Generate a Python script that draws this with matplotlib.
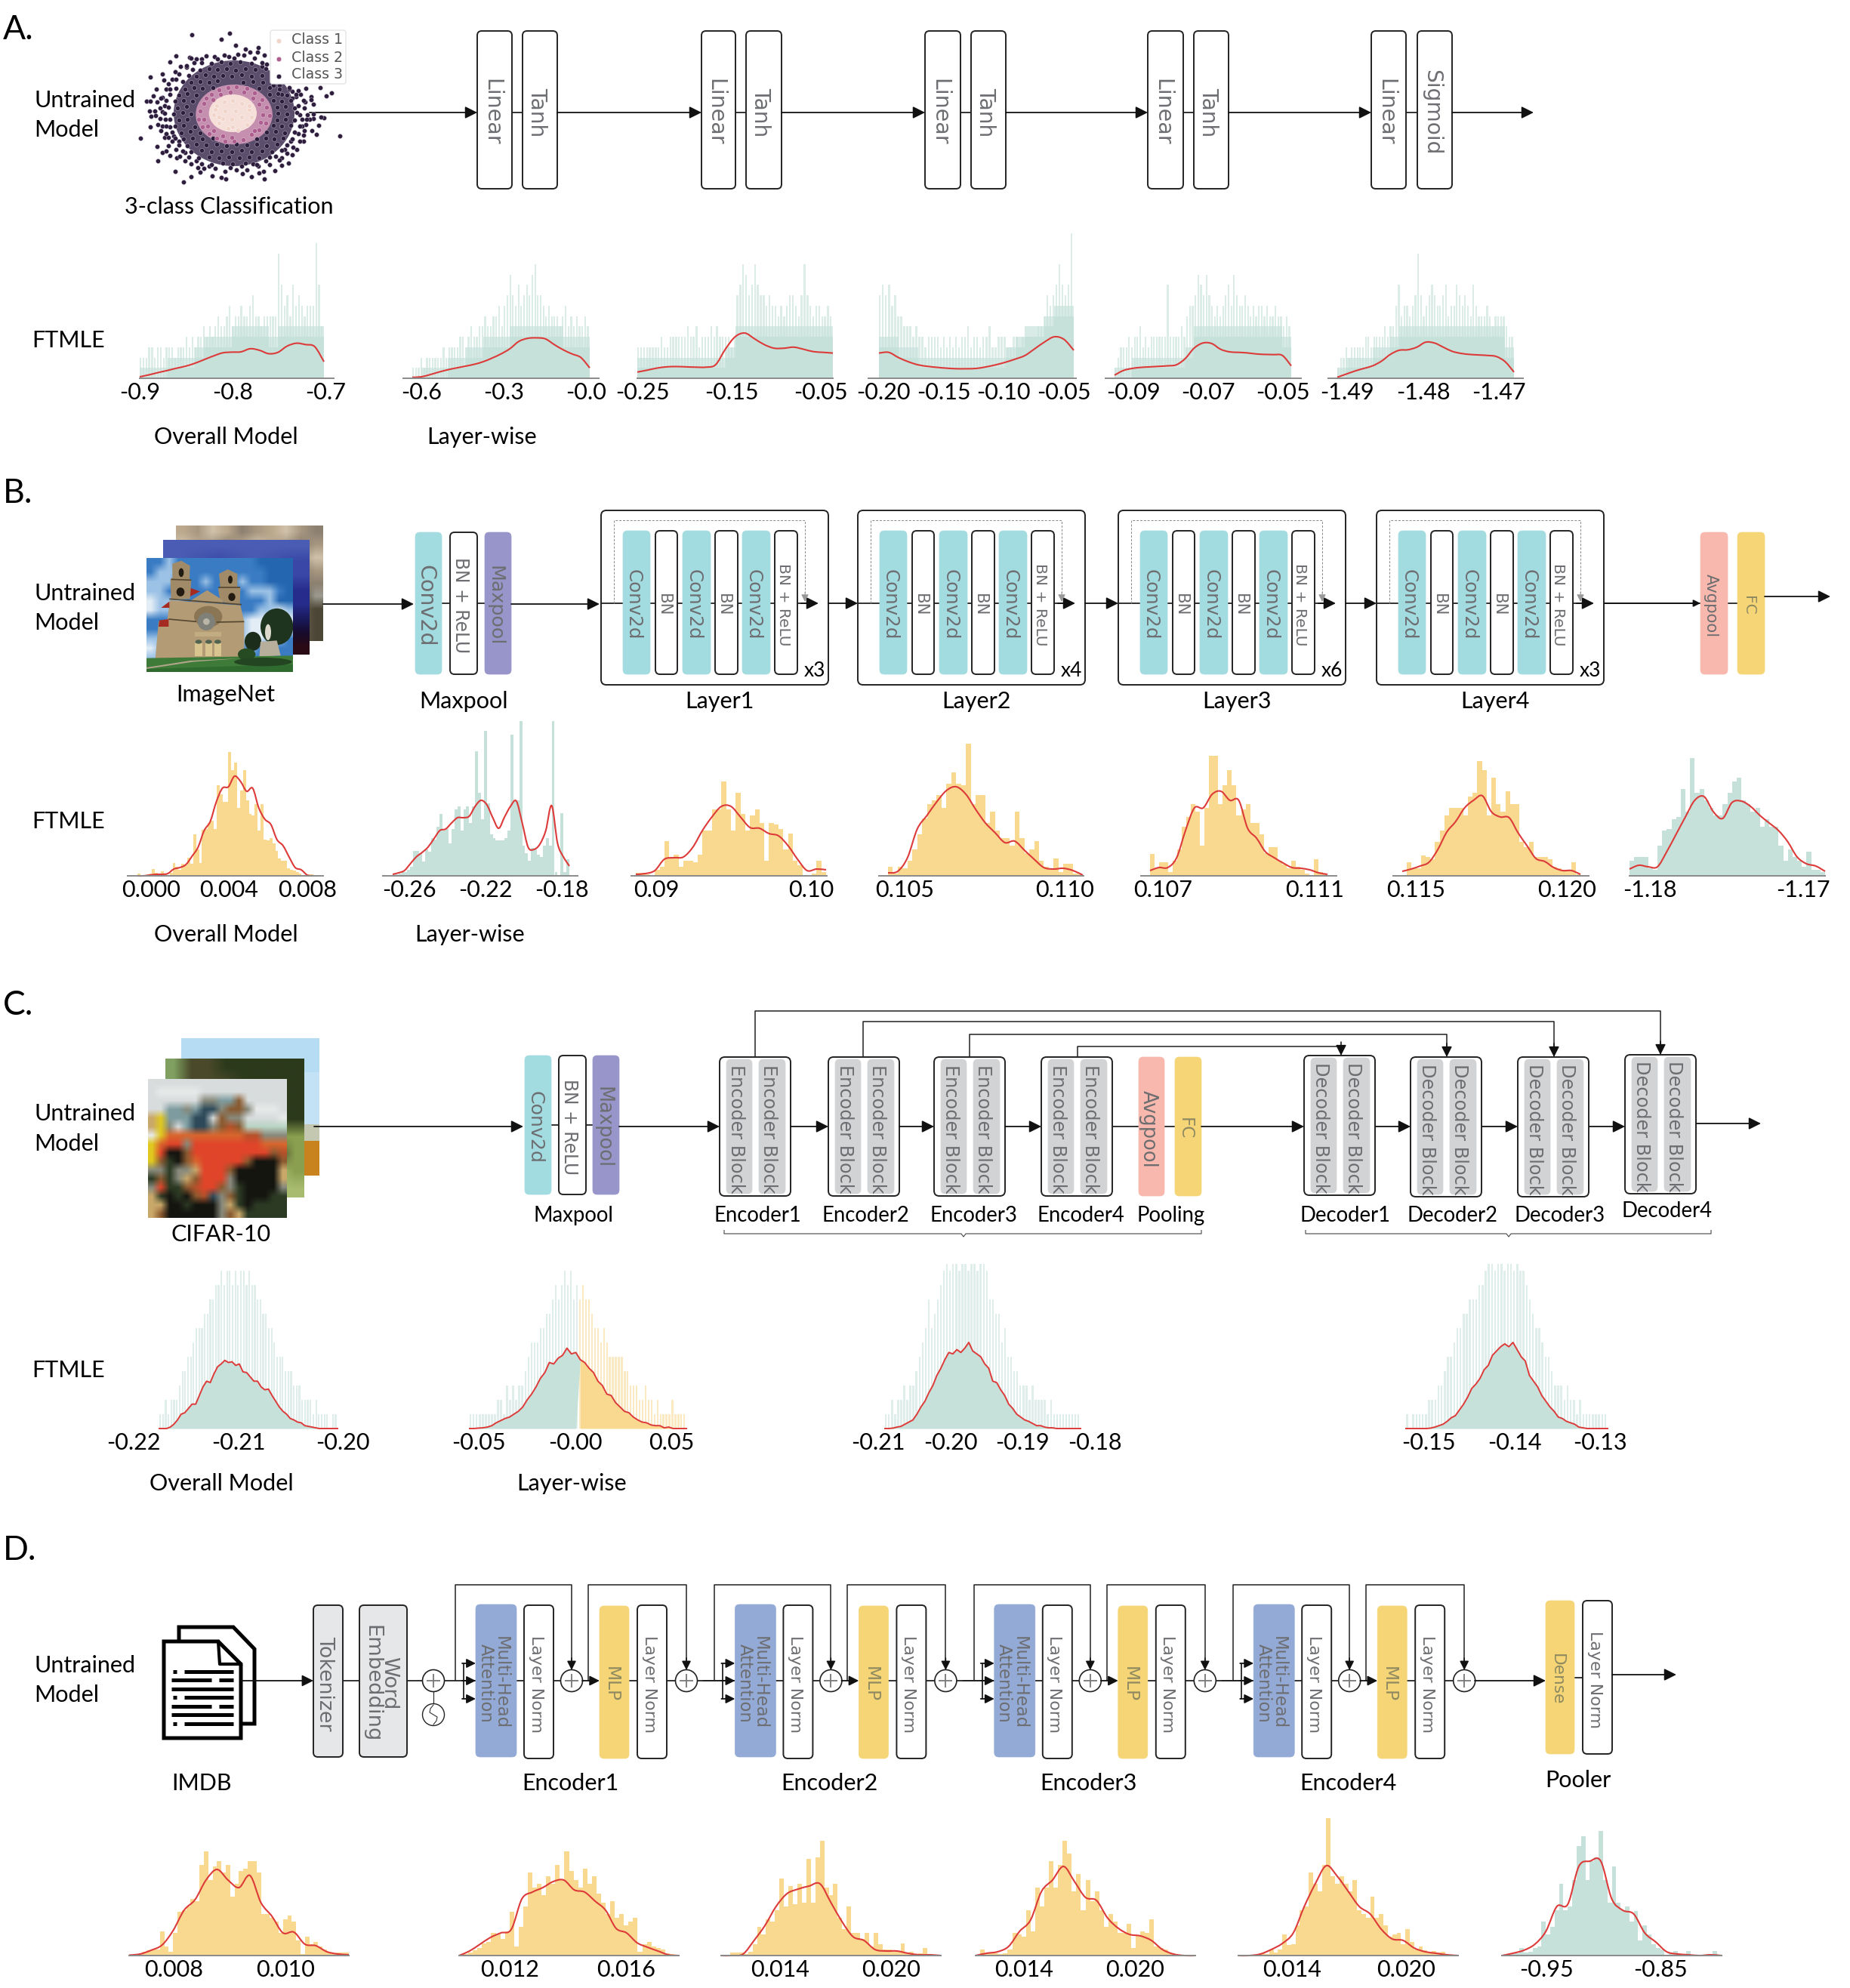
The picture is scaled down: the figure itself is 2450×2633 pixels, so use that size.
import numpy as np
import matplotlib
matplotlib.use('Agg')
import matplotlib.pyplot as plt
from matplotlib.colors import to_rgb
from matplotlib.patches import FancyBboxPatch, Polygon, Ellipse, Circle, PathPatch, Rectangle
from matplotlib.path import Path

plt.rcParams['font.family'] = ['Lato', 'DejaVu Sans']

W, H = 2450, 2633

GREEN = '#C5E1D9'
ORANGE = '#F9D88F'
RED = '#DD3A3A'
TEAL = '#A3DCE0'
PURPLE = '#9795C9'
SALMON = '#F9B8AE'
YELLOW = '#F5D576'
BLUE = '#94AAD6'
GREY = '#D1D3D4'
LIGHT = '#E6E7E8'
TXT = '#6D6E71'

# ---- scatter of panel A
class3_pts = [(252,47),(402,43),(369,65),(426,89),(465,105),(515,100),(484,117),(512,117),(190,132),(165,155),
    (243,137),(250,140),(540,130),(290,143),(310,132),(343,136),(380,128),(400,135),(435,126),(460,130),(208,175),
    (232,178),(88,215),(135,205),(185,195),(142,228),(160,243),(110,265),(100,292),(72,313),(88,313),(135,297),
    (115,315),(84,352),(105,350),(90,372),(108,370),(118,405),(88,415),(128,430),(47,459),(145,455),(158,455),
    (115,493),(160,488),(135,517),(150,510),(165,527),(116,550),(193,537),(225,548),(187,590),(248,613),(218,633),
    (285,595),(333,610),(368,615),(388,620),(452,600),(490,612),(520,597),(540,622),(538,592),(582,589),(610,567),
    (635,558),(608,537),(650,525),(670,505),(695,470),(695,448),(730,430),(748,445),(755,408),(735,380),(778,378),
    (765,375),(840,449),(807,279),(785,290),(762,258),(725,295),(725,307),(703,315),(735,325),(705,262),(685,285),
    (675,270),(650,272),(720,385),(708,385),(735,362),
    (200,205),(175,225),(150,265),(130,300),(125,340),(125,380),(135,410),(150,440),(175,470),(190,505),(205,530),
    (250,560),(275,575),(300,580),(345,580),(385,590),(430,585),(470,585),(515,570),(560,565),(600,545),(630,520),
    (655,495),(680,470),(700,430),(705,405),(710,365),(700,340),(695,310),(665,295),(640,265),(600,250),(575,240),
    (230,170),(270,145),(355,145),(420,140),(500,140),(530,175),(548,165),
    (190,225),(165,265),(145,330),(135,355),(148,385),(165,415),(180,450),(200,470),(225,515),(270,550),(320,570),
    (405,575),(450,570),(495,560),(545,550),(585,530),(620,505),(645,470),(675,440),(690,410),(680,365),(675,330),
    (650,300),(610,285),
    (260,160),(290,158),(330,163),(370,157),(405,162),(445,156),(490,163),(530,158),
    (255,185),(285,188),(320,183),(355,187),(390,182),(425,188),(465,184),(505,186),(545,183),
    (240,210),(270,212),(305,208),(340,213),(375,209),(410,212),(450,207),(490,213),(530,209),
    (215,235),(250,238),(285,233),(320,237),(355,232),(455,236),(495,233),(535,238),(575,250),
    (190,260),(225,263),(260,258),(295,262),(335,258),(520,262),(560,258),(600,263),(640,259),
    (165,285),(200,288),(235,283),(270,287),(560,286),(595,283),(630,288),(665,284),
    (150,310),(185,312),(220,308),(255,313),(575,309),(610,312),(645,308),
    (160,335),(195,338),(230,333),(590,337),(625,333),(660,338),
    (145,360),(180,363),(215,358),(250,362),(595,360),(630,363),(670,358),
    (165,385),(200,388),(235,383),(590,386),(625,383),(660,388),(690,384),
    (150,410),(185,412),(220,408),(265,413),(575,409),(610,412),(645,408),(680,411),
    (175,435),(210,438),(245,433),(285,437),(550,435),(585,433),(620,438),(660,434),
    (185,460),(220,463),(255,458),(295,462),(335,458),(510,462),(545,458),(580,463),(615,459),(650,462),
    (200,485),(235,488),(270,483),(310,487),(350,484),(390,488),(430,484),(470,487),(510,483),(550,488),(590,484),(630,487),
    (215,510),(250,512),(290,508),(330,513),(370,509),(410,512),(450,508),(490,513),(530,509),(570,512),(610,508),
    (240,535),(280,538),(320,533),(360,537),(400,534),(440,538),(480,533),(520,537),(560,534),
    (290,560),(330,563),(375,558),(415,562),(465,559),(510,563)]
class2_pts = [(300,320),(285,350),(280,385),(295,415),(320,440),(350,460),(385,470),(420,472),(455,465),(490,445),
    (520,425),(545,400),(560,370),(550,335),(530,305),(500,280),(470,262),(430,255),(395,258),(360,268),(330,285),
    (310,300),(300,385),(315,410),(340,430),(375,450),(410,455),(500,430),(525,395),(535,365),(520,325),(495,300),
    (460,275),(405,275),(365,285),(335,305)]
class1_pts = [(350,330),(380,315),(415,310),(450,320),(480,345),(490,375),(470,405),(435,425),(395,420),(360,400),
    (340,365),(385,350),(425,350),(450,375),(410,385),(375,380),(345,345),(480,330),(415,415),(360,375)]
legend_labels = ['Class 1', 'Class 2', 'Class 3']

# ---- panel A histograms (counts)
a1_spikes = [2,2,2,3,3,2,3,3,2,3,3,3,2,3,3,3,4,3,4,3,4,4,5,4,5,4,5,6,5,5,6,7,5,6,6,7,6,6,7,8,6,6,5,6,6,6,6,6,12,9,7,8,6,9,7,8,7,6,7,7,7,13,9,5]
a1_floor = [1,1,1,2,2,2,3,4,4,4,5,5,5,5,4,5,5,5,5,5]
a1_curve = [.14,.33,.55,.75,.97,1.17,1.45,1.8,2.15,2.45,2.52,2.55,2.85,2.7,2.37,2.5,3.1,3.38,3.25,3.05,1.6]
a2_spikes = [1,1,1,2,1,2,2,2,2,2,2,3,2,3,3,3,3,4,4,3,4,5,4,4,5,5,6,5,5,6,6,7,5,7,8,10,8,7,9,7,8,9,8,10,11,8,8,7,6,7,6,6,6,5,6,7,5,6,5,6,5,5,6,5]
a2_floor = [0,1,1,1,2,2,3,3,4,4,4,5,5,5,5,5,5,4,4,4]
a2_curve = [.09,.14,.35,.6,.82,1.0,1.17,1.35,1.6,1.95,2.35,2.85,3.55,3.85,3.9,3.8,3.25,2.75,2.35,2.0,1.0]
a3_spikes = [3,3,3,3,3,3,3,3,4,3,3,4,4,4,4,4,4,5,4,4,5,3,4,4,4,5,4,5,4,4,4,4,3,4,8,9,11,10,8,9,11,9,8,8,7,8,7,7,6,7,6,7,8,8,7,6,8,11,8,7,6,7,7,6,6,7,6]
a3_floor = [2,2,2,2,2,2,2,2,2,3,5,5,5,5,5,5,5,5,5,5]
a3_curve = [.6,.78,.98,1.1,1.13,1.1,1.07,1.07,1.3,2.8,4.0,4.36,3.8,3.24,2.9,2.9,3.0,2.8,2.57,2.5,2.43]
a4_spikes = [8,9,8,9,7,8,6,6,5,5,5,4,5,4,4,3,4,4,4,4,3,4,3,4,3,4,3,4,4,5,3,4,4,3,4,4,5,3,3,4,4,4,3,3,4,4,3,4,3,4,4,4,5,5,6,8,7,8,9,11,9,8,9,14]
a4_floor = [4,4,3,3,2,2,2,2,2,2,2,2,2,3,4,5,5,6,7,7]
a4_curve = [2.43,2.5,2.0,1.6,1.3,1.15,1.05,.97,.92,.92,.95,1.1,1.3,1.55,1.85,2.2,2.85,3.5,4.0,3.75,2.7]
a5_spikes = [1,2,3,3,3,4,3,4,4,5,3,4,3,4,4,4,4,4,4,9,4,4,4,4,5,4,6,7,7,8,10,9,8,10,8,7,6,7,6,7,8,9,7,10,8,7,7,8,7,6,7,6,7,7,6,7,6,6,7,6,6,5,6,5]
a5_floor = [1,1,2,2,2,2,2,2,3,5,5,5,5,5,5,5,5,5,5,4]
a5_curve = [.3,.75,.95,1.05,1.1,1.15,1.2,1.3,1.9,2.9,3.4,3.35,2.8,2.55,2.5,2.45,2.35,2.3,2.28,2.2,1.2]
a6_spikes = [1,2,2,3,2,3,3,3,3,3,4,4,3,4,4,4,4,5,4,5,5,7,9,6,7,7,6,7,8,12,8,6,7,8,9,8,7,7,8,9,6,7,7,9,8,7,8,7,6,9,7,6,6,6,7,6,5,6,6,6,6,5,4,4]
a6_floor = [1,2,2,2,3,3,4,5,5,5,5,5,5,5,5,5,5,5,5,3]
a6_curve = [.1,.4,.7,.95,1.2,1.65,2.3,2.7,2.75,3.0,3.48,3.4,3.0,2.6,2.4,2.3,2.25,2.2,2.1,1.6,.6]

# ---- panel B histograms (relative heights)
b1_bars = [3,0,0,2,3,9,4,0,6,3,0,4,17,12,8,16,14,24,16,55,35,17,61,62,70,73,62,120,108,98,98,164,140,150,90,113,140,100,82,80,95,60,95,48,47,50,43,33,23,20,20,10,8,7,5,3,1,1,2,2]
b1_curve = [0,0,1,2,2,3,9,11,15,26,38,60,72,98,116,118,132,125,112,116,90,75,68,48,40,25,11,8,1,0]
b2_bars = [3,2,3,5,5,8,12,33,33,30,19,35,32,50,48,65,82,60,62,43,62,88,92,60,88,92,70,92,165,110,75,192,96,55,50,47,47,47,50,60,187,100,100,205,40,30,20,37,35,28,25,40,50,40,205,5,0,83,5,22]
b2_curve = [2,4,7,16,25,31,38,49,60,62,70,77,77,79,92,100,94,77,63,78,92,99,70,38,35,42,60,93,43,25,13]
b3_bars = [4,4,2,0,8,12,46,25,28,12,20,20,18,28,60,60,88,88,125,88,60,110,82,60,80,88,70,20,70,68,62,35,56,20,14,0,0,3,20,5]
b3_curve = [2,3,7,22,24,25,38,60,78,92,92,78,64,63,56,53,40,22,7,9,8]
b4_bars = [12,3,12,10,20,35,55,76,95,100,107,90,122,137,122,120,175,95,107,107,70,85,60,50,50,40,85,50,30,35,46,20,12,8,23,5,16,16,3,2]
b4_curve = [4,6,24,62,80,98,113,118,108,88,70,57,44,46,34,22,11,9,10,7,1]
b5_bars = [29,10,18,18,5,20,35,65,78,95,85,40,90,159,159,95,120,140,120,80,88,95,70,70,55,30,38,38,20,15,10,20,12,8,3,0,22,5,3]
b5_curve = [7,11,11,24,60,90,90,108,112,100,100,63,50,32,24,17,11,10,8,4,2]
b6_bars = [0,18,10,10,27,25,22,45,60,80,90,90,90,80,105,110,152,140,80,130,95,85,112,95,95,45,38,45,25,25,25,22,12,10,8,8,18,2]
b6_curve = [6,9,13,18,35,58,72,90,100,106,85,78,77,57,40,23,19,11,7,7,2]
b7_bars = [20,25,25,25,10,8,40,60,62,75,78,115,85,156,110,115,100,90,80,80,95,110,125,130,100,95,85,90,65,75,65,65,40,20,35,25,20,12,32,8,8,5]
b7_curve = [9,14,12,12,32,55,78,100,105,85,76,97,99,92,80,70,60,45,25,16,13,6]

# ---- panel C histograms (counts); the solid part follows the curve
c1_spikes = [1,1,2,1,2,2,2,3,4,4,5,5,6,7,7,7,8,8,9,9,10,10,11,10,11,11,10,11,10,11,11,10,11,10,10,9,9,8,8,7,7,6,5,5,5,4,4,4,3,3,3,2,2,2,2,1,2,1,1,1,1,0,1,1]
c1_curve = [0,0,0,.1,.3,.6,1,1.1,1.4,1.7,1.7,2.3,2.9,3.3,3.2,3.8,4.3,4.5,4.75,4.6,4.65,4.4,4.5,3.95,3.9,3.6,3.3,3.3,2.9,2.7,2.75,2.3,1.9,1.5,1.2,1.0,.7,.6,.45,.4,.2,.15,.1,.05,0,0,0,0,0,0]
c2_green_spikes = [1,1,1,1,1,1,1,1,1,2,2,1,3,2,3,2,3,3,4,5,6,6,6,7,7,8,8,9,10,9,10,11,10,11,9,10]
c2_orange_spikes = [9,10,9,9,8,7,7,6,7,6,5,5,5,5,5,4,4,3,3,3,2,2,3,2,2,1,2,1,1,1,1,2,1,1,1,1]
c2_curve = [0,0,.03,.05,.1,.2,.4,.55,.7,.8,1,1.2,1.5,2,2.4,2.9,3.5,3.9,4.6,4.5,4.9,5.1,5.6,5.2,5.3,4.8,4.6,4.2,3.9,3.3,3.0,2.4,2.3,1.8,1.5,1.2,1.1,.8,.6,.45,.4,.25,.2,.2,.05,.1,0,0,0,0]
c3_spikes = [1,1,2,1,2,2,3,2,3,3,4,5,6,7,9,7,8,9,10,11,12,11,12,12,11,12,12,11,12,12,11,12,12,11,9,9,8,8,6,7,5,5,4,4,3,3,3,2,3,2,2,2,2,1,2,1,1,1,1,1,1,1,1,1]
c3_curve = [0,0,.03,.1,.15,.3,.45,.6,1,1.5,1.9,2.5,3,3.7,4.2,4.8,5.3,5.2,5.5,5.3,5.6,6,5.4,5.2,5,4.5,4.2,3.3,3.2,2.7,2.3,1.7,1.4,1,.8,.6,.5,.35,.2,.2,.1,.05,.05,0,0,0,0,0,0,0]
c4_spikes = [1,0,1,1,1,1,1,2,2,2,3,3,4,5,5,6,7,7,8,8,9,9,9,10,10,11,12,12,11,12,12,11,12,12,11,12,11,11,10,9,8,7,7,6,5,5,4,3,3,3,2,3,2,2,1,2,1,1,1,1,1,1,1,1]
c4_curve = [0,0,0,0,0,0,.03,.1,.2,.3,.5,.75,.9,1.3,1.7,2.2,2.8,3.1,3.5,4.1,4.4,5.1,5.4,5.7,5.9,5.7,6,5.5,5,4.7,3.7,3.3,2.9,2.3,1.9,1.5,1.2,.8,.7,.5,.4,.3,.1,.05,0,0,0,0,0,0]

# ---- panel D histograms (relative heights)
d1_bars = [1,0,2,5,7,8,8,32,12,5,30,58,60,65,75,72,120,138,100,118,125,110,120,78,95,112,115,125,125,110,55,55,50,45,30,48,53,45,20,2,25,15,18,12,8,5,2,4,4,4]
d1_curve = [.5,2,7,14,33,60,74,100,114,100,90,106,70,52,30,31,15,13,5,2,1]
d2_bars = [0,2,4,7,10,16,18,30,28,22,32,58,12,38,65,110,90,95,80,105,95,120,100,138,112,100,90,115,95,105,82,70,55,72,50,55,40,45,50,5,15,18,12,10,8,3,2,1]
d2_curve = [0,6,15,24,30,35,75,84,90,98,100,87,84,72,60,36,30,17,11,6,1,0]
d3_bars = [0,0,4,4,4,2,5,15,38,28,48,45,60,102,65,92,68,95,70,128,70,130,152,90,80,95,50,35,65,30,30,22,30,12,30,15,8,8,5,5,16,4,5,2,3,10,2,0,0]
d3_curve = [0,0,2,20,40,65,82,88,92,95,70,45,25,20,8,6,6,3,1,1,0]
d4_bars = [0,8,3,4,3,2,3,8,30,28,25,60,32,90,65,90,125,90,120,152,135,85,108,60,100,72,85,60,38,55,45,30,30,42,10,26,32,30,48,12,10,8,3,1,1,0,0,0]
d4_curve = [0,3,5,12,32,47,85,100,118,98,77,73,50,36,28,26,20,8,2,0,0]
d5_bars = [0,0,0,0,0,3,2,8,4,8,28,14,15,40,60,65,110,95,85,120,182,105,95,105,95,85,100,60,55,50,78,50,55,40,25,28,30,15,35,18,8,12,7,5,6,4,5,1,0,0]
d5_curve = [0,0,2,8,16,30,65,95,119,105,85,65,55,35,22,20,10,5,3,1,0]
d6_bars = [0,0,2,3,10,4,5,10,12,45,28,38,60,95,60,65,100,145,158,100,125,130,165,100,70,118,70,60,65,45,59,20,40,28,15,10,8,0,3,6,0,0,6,0,0,0,0,0,6,0]
d6_curve = [0,3,7,15,32,65,68,118,125,125,75,60,55,30,18,5,2,1,0,1,0]

# ---- the photos, as coarse colour grids
sky_palette = {'b':'#3A7CC4','d':'#2467B0','c':'#9CC2E6','w':'#E3EDF6'}
sky_rows = [
    'bbcbbbbbbbbbdddd',
    'bcccbbbbbbbbbddd',
    'cccbbbcbbbcbbddd',
    'ccbbbbbbbbbcccbd',
    'wcccbbbbbbbbbcdd',
    'wccbbbbbbbbbccwc',
    'bbbbbbbbbbcwwwww',
    'bbbbbbbbbbcwwwww',
    'ccbbbbbbbbcwwccb',
    'wcbbbbbbbbbcbbbb',
    'ccbbbbbbbbbbbbbb',
    'bbbbbbbbbbbbbbbb']
sea_palette = {'a':'#4A5CB4','b':'#3A47A6','c':'#262C8C','d':'#1A1A5C','e':'#180C2C','f':'#2A0A14'}
sea_rows = ['aaaa','abab','bbbb','cccc','cccc','dddd','eeee','ffff']
rock_palette = {'a':'#BCA98E','b':'#A89882','c':'#8C8070','d':'#D0C2AA','e':'#6A604E','f':'#9C9A90','g':'#4C4636'}
rock_rows = ['abdacbadbc','dabcadabcb','abadcbacbd','bcabdacbcb','adbcabdfcc','abacbdafgf','cabdabcgeg','abcabaceeg','abdabcbgeg']
truck_palette = {'a':'#D8DCDC','w':'#E8EAEA','h':'#7E9CA0','n':'#2E4A5A','o':'#E0452A','O':'#D8662E','y':'#E0C820',
    'k':'#151510','g':'#2C3A24','t':'#C9A86A','m':'#888A7C','e':'#B9D4C4','b':'#8A5A30','r':'#B5512A'}
truck_rows = [
    'aaaaaaaaaaaaaaaa',
    'awwwwwaaaaaaaaaa',
    'aaaaaammhhbaaaaa',
    'aahhmhnnmbbmwwwa',
    'tyhhhnnabmmaaaaw',
    'tymahnnmbrbeeeee',
    'wyOOOOOOOOOrrmmm',
    'yOoomooooooooOOO',
    'yokkbooooooooobr',
    'ybgkbOooooobkkkb',
    'mmgmmtooobkkkkkt',
    'gbgmtbooomkkkkkt',
    'moggbroobmgkkkkm',
    'tgkgkbrnmbgkkkgg',
    'ttkkgkkkmtgkgggg',
    'tbkkkkkkmbtggggg']
leaf_palette = {'u':'#7FA060','v':'#2C3A1C','x':'#4A4A2A','y':'#8AA050','z':'#A8BC70'}
leaf_rows = ['uxxvvvvv','uxxxvvvv','xxxxxvvv','xxxxxxvv','xxxxxxyy','xxxxxxxy','xxxxxxzy','xxxxxxzz']
field_palette = {'s':'#B5DCF2','q':'#C3E2F5','g':'#C4C8B0','o':'#C8821E','O':'#DB9A28'}
field_rows = ['ssss','ssss','qqqq','qqqq','qqqq','gggg','oOoo','oooo']


def mosaic(rows, palette):
    n = max(len(r) for r in rows)
    return np.array([[to_rgb(palette[c]) for c in r.ljust(n, r[-1])] for r in rows])


fig = plt.figure(figsize=(W / 100, H / 100), dpi=100)
canvas = fig.add_axes([0, 0, 1, 1])


def finish_canvas():
    canvas.set_xlim(0, W)
    canvas.set_ylim(H, 0)
    canvas.axis('off')


def txt(x, y, s, size=22, ha='center', color='black', **kw):
    canvas.text(x, y + 2, s, fontsize=size, ha=ha, va='center', color=color, zorder=8, **kw)


def vtxt(x, y, s, size=17, color=TXT):
    canvas.text(x - 4, y + 3, s, fontsize=size * 1.04, ha='center', va='center', rotation=270, color=color,
                family='DejaVu Sans', zorder=8, linespacing=0.85)


def box(x0, x1, y0, y1, fc='white', ec='#222222', lw=1.4, r=6, z=5):
    canvas.add_patch(FancyBboxPatch((x0, y0), x1 - x0, y1 - y0, boxstyle=f'round,pad=0,rounding_size={r}',
                                    fc=fc, ec=ec, lw=lw, zorder=z))


def block(x0, x1, y0, y1, s, size, fc=None, outlined=True, color=TXT):
    if fc is None:
        box(x0, x1, y0, y1)
    elif outlined:
        box(x0, x1, y0, y1, fc=fc)
    else:
        box(x0, x1, y0, y1, fc=fc, ec=fc, lw=0.5)
    vtxt((x0 + x1) / 2, (y0 + y1) / 2, s, size, color)


def seg(xs, ys, lw=1.3, color='#222222', z=3, **kw):
    canvas.plot(xs, ys, color=color, lw=lw, zorder=z, solid_capstyle='butt', **kw)


def arrow(x0, y0, x1, y1, lw=1.3, ms=16, color='#111111', z=6):
    canvas.annotate('', xy=(x1, y1), xytext=(x0, y0), zorder=z,
                    arrowprops=dict(arrowstyle='-|>,head_length=0.6,head_width=0.3', color=color, lw=lw,
                                    shrinkA=0, shrinkB=0, mutation_scale=ms))


def hist_axes(spine, base, height, ymax, tick_px, ticks, labels, show_spine=True):
    x0, x1 = spine
    ax = fig.add_axes([x0 / W, 1 - base / H, (x1 - x0) / W, height / H])
    ax.patch.set_alpha(0)
    scale = (ticks[-1] - ticks[0]) / (tick_px[1] - tick_px[0])
    to_data = lambda px: ticks[0] + (px - tick_px[0]) * scale
    ax.set_xlim(to_data(x0), to_data(x1))
    ax.set_ylim(0, ymax)
    ax.set_xticks(ticks)
    ax.set_xticklabels(labels)
    ax.set_yticks([])
    ax.tick_params(axis='x', length=0, pad=3.8, labelsize=22)
    for k in ('top', 'left', 'right'):
        ax.spines[k].set_visible(False)
    ax.spines['bottom'].set_color('#8A8A8A')
    ax.spines['bottom'].set_linewidth(1.4)
    ax.spines['bottom'].set_visible(show_spine)
    return ax, to_data


def spiky(ax, to_data, bar_px, spikes, color, alpha=0.6):
    edges = np.linspace(to_data(bar_px[0]), to_data(bar_px[1]), len(spikes) + 1)
    ax.bar(edges[:-1], spikes, width=(edges[1] - edges[0]) * 0.6, align='edge', color=color, alpha=alpha, lw=0)


def floor_bars(ax, to_data, bar_px, floor, color):
    # top level is dense but pale in the original, the levels under it are solid
    edges = np.linspace(to_data(bar_px[0]), to_data(bar_px[1]), len(floor) + 1)
    ax.bar(edges[:-1], floor, width=edges[1] - edges[0], align='edge', color=color, alpha=0.65, lw=0)
    ax.bar(edges[:-1], np.maximum(np.array(floor) - 1, 0), width=edges[1] - edges[0], align='edge', color=color, lw=0)


def bars(ax, to_data, bar_px, heights, color):
    edges = np.linspace(to_data(bar_px[0]), to_data(bar_px[1]), len(heights) + 1)
    ax.bar(edges[:-1], heights, width=edges[1] - edges[0], align='edge', color=color, lw=0)


def curve(ax, to_data, bar_px, values):
    xs = np.linspace(to_data(bar_px[0]), to_data(bar_px[1]), len(values))
    p = np.column_stack([xs, values])
    verts = [p[0]]
    codes = [Path.MOVETO]
    for i in range(len(p) - 1):
        a = p[max(i - 1, 0)]
        d = p[min(i + 2, len(p) - 1)]
        verts += [p[i] + (p[i + 1] - a) / 6, p[i + 1] - (d - p[i]) / 6, p[i + 1]]
        codes += [Path.CURVE4] * 3
    ax.add_patch(PathPatch(Path(verts, codes), fill=False, ec=RED, lw=1.5, clip_on=False))


def rough_curve(ax, to_data, bar_px, values):
    xs = np.linspace(to_data(bar_px[0]), to_data(bar_px[1]), len(values))
    ax.plot(xs, values, color=RED, lw=1.4, clip_on=False)
    return xs


def side_labels(y_untrained, y_model, y_ftmle=None, y_row=None, x_overall=299, x_layer=627):
    txt(45, y_untrained, 'Untrained', ha='left')
    txt(45, y_model, 'Model', ha='left')
    if y_ftmle is not None:
        txt(42, y_ftmle, 'FTMLE', ha='left')
        txt(x_overall, y_row, 'Overall Model')
        txt(x_layer, y_row, 'Layer-wise')


# ==================== panel A ====================
txt(4, 37, 'A.', 32, ha='left')
side_labels(131, 170, 449, 577, 299, 638)
txt(303, 272, '3-class Classification')

sc = fig.add_axes([170 / W, 1 - 260 / H, 300 / W, 230 / H])
sc.set_xlim(0, 900)
sc.set_ylim(690, 0)
sc.axis('off')
sc.add_patch(Ellipse((420, 360), 480, 420, fc='#5B4D6C', lw=0))
sc.add_patch(Ellipse((420, 365), 305, 238, fc='#C58FAF', lw=0))
sc.add_patch(Ellipse((415, 360), 190, 150, fc='#F5DFD8', lw=0))
sc.scatter(*zip(*class3_pts), s=19, c='#2D1E3E', edgecolors='#CDC3D2', linewidths=0.3)
sc.scatter(*zip(*class2_pts), s=19, c='#AD5F8F', edgecolors='#EAD3E0', linewidths=0.3)
sc.scatter(*zip(*class1_pts), s=19, c='#F1D5CB', edgecolors='white', linewidths=0.3)
leg = fig.add_axes([357 / W, 1 - 112 / H, 102 / W, 73 / H])
leg.set_xlim(357, 459)
leg.set_ylim(112, 39)
leg.add_patch(FancyBboxPatch((358, 40), 100, 71, boxstyle='round,pad=0,rounding_size=3', fc='white', ec='#E4E4E4', lw=1))
for yy, lab, col in zip([53, 77, 100], legend_labels, ['#F1D5CB', '#AD5F8F', '#2D1E3E']):
    leg.scatter([369], [yy + 1], s=22, c=col, edgecolors='white', linewidths=0.3)
    leg.text(386, yy - 1, lab, fontsize=13.7, family='DejaVu Sans', color='#555555', va='center', ha='left')
leg.axis('off')

a_x = [(632, 678, 692, 738, 'Tanh'), (929, 974, 988, 1035, 'Tanh'), (1225, 1272, 1286, 1332, 'Tanh'),
       (1520, 1567, 1581, 1627, 'Tanh'), (1816, 1862, 1877, 1923, 'Sigmoid')]
prev = 410
for x0, x1, x2, x3, name in a_x:
    arrow(prev, 149, x0, 149)
    seg([x1, x2], [149, 149])
    block(x0, x1, 41, 250, 'Linear', 19.7)
    block(x2, x3, 41, 250, name, 19.5)
    prev = x3
arrow(prev, 149, 2031, 149)

a_panels = [
    ((185, 442), (185, 429), (185, 431), [-0.9, -0.8, -0.7], ['-0.9', '-0.8', '-0.7'], a1_spikes, a1_floor, a1_curve),
    ((534, 793), (546, 781), (558, 776), [-0.6, -0.3, -0.0], ['-0.6', '-0.3', '-0.0'], a2_spikes, a2_floor, a2_curve),
    ((844, 1103), (844, 1103), (851, 1087), [-0.25, -0.15, -0.05], ['-0.25', '-0.15', '-0.05'], a3_spikes, a3_floor, a3_curve),
    ((1150, 1425), (1164, 1422), (1170, 1409), [-0.20, -0.15, -0.10, -0.05], ['-0.20', '-0.15', '-0.10', '-0.05'], a4_spikes, a4_floor, a4_curve),
    ((1464, 1723), (1476, 1710), (1501, 1699), [-0.09, -0.07, -0.05], ['-0.09', '-0.07', '-0.05'], a5_spikes, a5_floor, a5_curve),
    ((1759, 2017), (1771, 2005), (1784, 1985), [-1.49, -1.48, -1.47], ['-1.49', '-1.48', '-1.47'], a6_spikes, a6_floor, a6_curve),
]
for spine, bar_px, tick_px, ticks, labels, spikes, floor, line in a_panels:
    ax, to_data = hist_axes(spine, 501, 195, 14.2, tick_px, ticks, labels)
    spiky(ax, to_data, bar_px, spikes, GREEN)
    floor_bars(ax, to_data, bar_px, floor, GREEN)
    curve(ax, to_data, bar_px, line)

# ==================== panel B ====================
txt(4, 652, 'B.', 32, ha='left')
side_labels(784, 823, 1086, 1236, 299, 622)
canvas.imshow(mosaic(rock_rows, rock_palette), extent=(233, 428, 849, 696), aspect='auto', interpolation='bilinear', zorder=2)
canvas.imshow(mosaic(sea_rows, sea_palette), extent=(216, 410, 867, 715), aspect='auto', interpolation='bilinear', zorder=2.1)
canvas.imshow(mosaic(sky_rows, sky_palette), extent=(194, 388, 890, 739), aspect='auto', interpolation='bilinear', zorder=2.2)

# church drawn over the sky, outlines
cx = lambda x: 185 + x / 3
cy = lambda y: 680 + y / 3
photo_clip = Rectangle((194, 739), 194, 151, transform=canvas.transData)


def photo(patch):
    patch.set_zorder(2.3)
    canvas.add_patch(patch)
    patch.set_clip_path(photo_clip)


def poly(pts, col):
    photo(Polygon([(cx(a), cy(b)) for a, b in pts], closed=True, fc=col, ec='none'))


def oval(a, b, w, h, col):
    photo(Ellipse((cx(a), cy(b)), w / 3, h / 3, fc=col, ec='none'))


poly([(62,578),(75,430),(110,420),(120,345),(400,365),(415,430),(415,550),(400,572)], '#B39B76')
poly([(85,375),(118,350),(118,375)], '#A52A22')
poly([(78,425),(115,420),(115,450),(75,450)], '#A52A22')
poly([(198,295),(240,310),(200,330)], '#A52A22')
poly([(130,200),(165,188),(200,208),(198,260),(205,265),(200,340),(125,340),(122,262),(130,255)], '#A08A68')
poly([(315,240),(350,222),(388,240),(388,290),(400,295),(398,365),(320,350),(312,300),(320,290)], '#A08A68')
poly([(205,345),(268,305),(330,345),(330,358),(205,350)], '#AD9672')
for a, b, w, h in [(165,235,20,35),(162,312,32,35),(360,263,18,32),(366,332,28,32)]:
    oval(a, b, w, h, '#211B12')
oval(272, 410, 112, 84, '#8A7555')
oval(265, 430, 70, 70, '#7F8178')
oval(265, 430, 26, 26, '#B9B6A8')
for xs_, ys_ in [((118,405),(340,362)), ((115,225),(420,430)), ((305,415),(432,430)), ((125,205),(262,265)), ((312,400),(295,295))]:
    seg([cx(xs_[0]), cx(xs_[1])], [cy(ys_[0]), cy(ys_[1])], lw=1.2, color='#54462F', z=2.4)
for a in (220, 260, 296):
    poly([(a,515),(a+28,515),(a+28,566),(a,566)], '#D8C48F')
    oval(a + 14, 510, 26, 16, '#4F6350')
poly([(220,470),(325,470),(325,490),(220,490)], '#C2AC82')
oval(545, 450, 130, 145, '#1F341E')
oval(450, 508, 66, 75, '#1C2E1B')
poly([(480,510),(545,505),(560,565),(475,570)], '#B8AE9C')
oval(510, 472, 24, 64, '#DDD8CC')
poly([(27,575),(609,565),(609,632),(27,632)], '#3E7B38')
poly([(27,612),(200,585),(400,576),(210,590),(27,618)], '#B0A58A')
poly([(27,618),(609,600),(609,632),(27,632)], '#2F6A2F')
oval(425, 560, 70, 48, '#264A22')
oval(490, 590, 230, 34, '#244522')

txt(299, 918, 'ImageNet')
txt(614, 927, 'Maxpool')

arrow(428, 800, 548, 800)
seg([585, 642], [799, 799])
block(550, 585, 705, 893, 'Conv2d', 19.7, TEAL, False)
block(596, 632, 705, 893, 'BN + ReLU', 16.3)
block(642, 677, 705, 893, 'Maxpool', 17.6, PURPLE, False)
arrow(677, 800, 794, 800)

layer_x = [796, 1136, 1481, 1823]
layer_rep = ['x3', 'x4', 'x6', 'x3']
for i, (lx, rep) in enumerate(zip(layer_x, layer_rep)):
    box(lx, lx + 301, 676, 907, r=7, z=2)
    seg([lx, lx + 280], [799, 799], z=3)
    seg([lx + 17, lx + 17, lx + 270, lx + 270], [799, 689, 689, 786], lw=0.7, color='#888888', z=3, ls=(0, (3, 2)))
    arrow(lx + 270, 784, lx + 270, 797, lw=0.6, ms=10, color='#999999', z=7)
    arrow(lx + 265, 799, lx + 288, 799)
    for dx0, dx1, s, fs, fc in [(29, 65, 'Conv2d', 17, TEAL), (72, 101, 'BN', 14.6, None), (108, 145, 'Conv2d', 17, TEAL),
                                (151, 181, 'BN', 14.6, None), (187, 224, 'Conv2d', 17, TEAL), (230, 260, 'BN + ReLU', 14, None)]:
        block(lx + dx0, lx + dx1, 703, 893, s, fs, fc, False)
    txt(lx + 283, 887, rep, 19)
    txt(lx + 157, 927, f'Layer{i + 1}')
    if i < 3:
        arrow(lx + 301, 799, layer_x[i + 1], 799)
seg([2125, 2252], [799, 799])
arrow(2125, 799, 2252, 799, ms=9)
block(2252, 2288, 705, 893, 'Avgpool', 14.6, SALMON, False)
block(2301, 2337, 705, 893, 'FC', 14, YELLOW, False, color='#8F8A60')
seg([2288, 2301], [799, 799])
arrow(2337, 790, 2424, 790)

b_panels = [
    ((169, 428), (182, 415), (200, 407), [0.000, 0.004, 0.008], ['0.000', '0.004', '0.008'], b1_bars, b1_curve, ORANGE),
    ((507, 765), (520, 754), (542, 744), [-0.26, -0.22, -0.18], ['-0.26', '-0.22', '-0.18'], b2_bars, b2_curve, GREEN),
    ((836, 1095), (842, 1094), (869, 1074), [0.09, 0.10], ['0.09', '0.10'], b3_bars, b3_curve, ORANGE),
    ((1164, 1435), (1176, 1434), (1198, 1410), [0.105, 0.110], ['0.105', '0.110'], b4_bars, b4_curve, ORANGE),
    ((1511, 1770), (1523, 1758), (1540, 1741), [0.107, 0.111], ['0.107', '0.111'], b5_bars, b5_curve, ORANGE),
    ((1845, 2104), (1857, 2093), (1875, 2075), [0.115, 0.120], ['0.115', '0.120'], b6_bars, b6_curve, ORANGE),
    ((2158, 2417), (2158, 2417), (2185, 2388), [-1.18, -1.17], ['-1.18', '-1.17'], b7_bars, b7_curve, GREEN),
]
for spine, bar_px, tick_px, ticks, labels, heights, line, col in b_panels:
    ax, to_data = hist_axes(spine, 1160, 206, 206, tick_px, ticks, labels)
    bars(ax, to_data, bar_px, heights, col)
    curve(ax, to_data, bar_px, line)

# ==================== panel C ====================
txt(4, 1330, 'C.', 32, ha='left')
side_labels(1473, 1513, 1813, 1963, 293, 757)
canvas.imshow(mosaic(field_rows, field_palette), extent=(240, 423, 1557, 1375), aspect='auto', interpolation='nearest', zorder=2)
canvas.imshow(mosaic(leaf_rows, leaf_palette), extent=(219, 403, 1586, 1402), aspect='auto', interpolation='bilinear', zorder=2.1)
canvas.imshow(mosaic(truck_rows, truck_palette), extent=(196, 380, 1613, 1429), aspect='auto', interpolation='bilinear', zorder=2.2)
txt(293, 1633, 'CIFAR-10')

arrow(416, 1492, 693, 1492)
block(695, 730, 1398, 1582, 'Conv2d', 17.5, TEAL, False)
block(740, 776, 1398, 1582, 'BN + ReLU', 16.3)
block(785, 820, 1398, 1582, 'Maxpool', 17.8, PURPLE, False)
seg([730, 785], [1490, 1490])
arrow(820, 1492, 953, 1492)


def coder(x0, y0, y1, name):
    box(x0, x0 + 94, y0, y1, r=7, z=4)
    box(x0 + 9, x0 + 43, y0 + 3, y1 - 3, fc=GREY, ec=GREY, lw=0.5, z=5)
    box(x0 + 52, x0 + 87, y0 + 3, y1 - 3, fc=GREY, ec=GREY, lw=0.5, z=5)
    vtxt(x0 + 26, (y0 + y1) / 2, name, 16.6)
    vtxt(x0 + 69, (y0 + y1) / 2, name, 16.6)


enc_x = [953, 1097, 1237, 1379]
dec_x = [1727, 1868, 2010, 2152]
dec_y = [(1398, 1583), (1400, 1585), (1400, 1585), (1397, 1581)]
for i, x0 in enumerate(enc_x):
    coder(x0, 1400, 1584, 'Encoder Block')
    if i < 3:
        arrow(x0 + 94, 1492, enc_x[i + 1], 1492)
seg([1473, 1508], [1492, 1492])
block(1508, 1542, 1400, 1584, 'Avgpool', 17.8, SALMON, False)
block(1556, 1591, 1400, 1584, 'FC', 16, YELLOW, False, color='#8F8A60')
seg([1542, 1556], [1492, 1492])
arrow(1591, 1492, 1727, 1492)
for i, (x0, (y0, y1)) in enumerate(zip(dec_x, dec_y)):
    coder(x0, y0, y1, 'Decoder Block')
    if i < 3:
        arrow(x0 + 95, 1492, dec_x[i + 1], 1492)
arrow(2247, 1488, 2332, 1488)

skips = [(1000, 2199, 1339, 1397), (1143, 2058, 1353, 1400), (1284, 1916, 1370, 1400), (1427, 1776, 1386, 1398)]
for xa, xb, ytop, yend in skips:
    seg([xa, xa, xb, xb], [1400, ytop, ytop, yend - 12], lw=1.1)
    arrow(xb, yend - 18, xb, yend, lw=1.1, ms=14)

for x, lab in zip([759, 1003, 1146, 1289, 1431, 1551, 1782, 1924, 2066],
                  ['Maxpool', 'Encoder1', 'Encoder2', 'Encoder3', 'Encoder4', 'Pooling', 'Decoder1', 'Decoder2', 'Decoder3']):
    txt(x, 1608, lab, 19.8)
txt(2208, 1602, 'Decoder4', 19.8)
for xa, xb, xm in [(959, 1591, 1276), (1729, 2266, 1998)]:
    seg([xa, xa, xm - 3, xm, xm + 3, xb, xb], [1629, 1634, 1634, 1638, 1634, 1634, 1629], lw=0.8, color='#444444')

c_panels = [
    ((170, 462), (211, 447), (177, 454), [-0.22, -0.21, -0.20], ['-0.22', '-0.21', '-0.20'], c1_spikes, c1_curve),
    ((1155, 1460), (1172, 1431), (1163, 1450), [-0.21, -0.20, -0.19, -0.18], ['-0.21', '-0.20', '-0.19', '-0.18'], c3_spikes, c3_curve),
    ((1860, 2130), (1862, 2129), (1892, 2119), [-0.15, -0.14, -0.13], ['-0.15', '-0.14', '-0.13'], c4_spikes, c4_curve),
]
for spine, bar_px, tick_px, ticks, labels, spikes, line in c_panels:
    ax, to_data = hist_axes(spine, 1892, 218, 11.47, tick_px, ticks, labels, show_spine=False)
    spiky(ax, to_data, bar_px, spikes, GREEN, alpha=0.55)
    xs = np.linspace(to_data(bar_px[0]), to_data(bar_px[1]), len(line))
    ax.fill_between(xs, line, color=GREEN, lw=0)
    rough_curve(ax, to_data, bar_px, line)
ax, to_data = hist_axes((620, 915), 1892, 218, 11.47, (634, 889), [-0.05, -0.00, 0.05], ['-0.05', '-0.00', '0.05'], show_spine=False)
spiky(ax, to_data, (622, 767), c2_green_spikes, GREEN, alpha=0.55)
spiky(ax, to_data, (767, 909), c2_orange_spikes, ORANGE, alpha=0.55)
xs = np.linspace(to_data(622), to_data(909), len(c2_curve))
split = to_data(767)
ax.fill_between(xs, c2_curve, where=xs <= split, interpolate=True, color=GREEN, lw=0)
ax.fill_between(xs, c2_curve, where=xs >= split, interpolate=True, color=ORANGE, lw=0)
rough_curve(ax, to_data, (622, 909), c2_curve)

# ==================== panel D ====================
txt(4, 2052, 'D.', 32, ha='left')
side_labels(2204, 2243)
txt(267, 2360, 'IMDB')

# document icon
canvas.add_patch(Polygon([(237, 2155), (309, 2155), (337, 2184), (337, 2283), (237, 2283)], closed=True, fc='white', ec='black', lw=3.6, zorder=3))
canvas.add_patch(Polygon([(217, 2174), (289, 2174), (319, 2204), (319, 2302), (217, 2302)], closed=True, fc='white', ec='black', lw=3.6, zorder=3.2))
canvas.plot([289, 291, 319], [2174, 2204, 2204], color='black', lw=3, zorder=3.3)
for yy, pieces in [(2214, [(229, 234), (244, 309)]), (2225, [(227, 280), (290, 309)]), (2237, [(227, 309)]),
                   (2248, [(229, 234), (244, 309)]), (2260, [(227, 280), (290, 309)]), (2271, [(227, 309)]),
                   (2283, [(229, 234), (244, 309)])]:
    for xa, xb in pieces:
        canvas.plot([xa, xb], [yy, yy], color='black', lw=3.6, zorder=3.3, solid_capstyle='butt')

arrow(319, 2226, 415, 2226, ms=15)
block(415, 454, 2126, 2327, 'Tokenizer', 18.6, LIGHT)
block(476, 539, 2126, 2327, 'Word\nEmbedding', 19, LIGHT)
seg([454, 476], [2226, 2226])
seg([539, 560], [2226, 2226])


def plus(x, y=2226):
    canvas.add_patch(Circle((x, y), 14.5, fc='white', ec='#222222', lw=1.2, zorder=6))
    seg([x - 9, x + 9], [y, y], color='#777777', z=7)
    seg([x, x], [y - 9, y + 9], color='#777777', z=7)


plus(574)
canvas.add_patch(Circle((574, 2271), 14.5, fc='white', ec='#222222', lw=1.0, zorder=6))
seg([574, 574], [2240, 2257], lw=0.8)
canvas.plot([574, 570, 569, 574, 579, 578, 574], [2258, 2263, 2268, 2271, 2274, 2279, 2284], color='#333333', lw=0.8, zorder=7)

step = 343.4
for i in range(4):
    o = i * step
    seg([588 + o, 630 + o], [2226, 2226])
    seg([614 + o, 614 + o], [2203, 2250])
    for yy in (2203, 2226, 2250):
        arrow(612 + o, yy, 630 + o, yy, ms=12)
    # residual connections
    seg([603 + o, 603 + o, 757 + o, 757 + o], [2226, 2099, 2099, 2200], lw=1.1)
    arrow(757 + o, 2196, 757 + o, 2212, lw=1.1, ms=12)
    seg([779 + o, 779 + o, 909 + o, 909 + o], [2226, 2099, 2099, 2200], lw=1.1)
    arrow(909 + o, 2196, 909 + o, 2212, lw=1.1, ms=12)
    block(630 + o, 684 + o, 2125, 2327, 'Multi-Head\nAttention', 15.8, BLUE, False)
    block(694 + o, 733 + o, 2126, 2329, 'Layer Norm', 15.3)
    plus(757 + o)
    seg([684 + o, 694 + o], [2226, 2226])
    seg([733 + o, 743 + o], [2226, 2226])
    arrow(771 + o, 2226, 794 + o, 2226, ms=13)
    block(794 + o, 833 + o, 2127, 2329, 'MLP', 16.2, YELLOW, False, color='#8F8A60')
    block(844 + o, 883 + o, 2126, 2329, 'Layer Norm', 15.3)
    seg([833 + o, 844 + o], [2226, 2226])
    seg([883 + o, 895 + o], [2226, 2226])
    plus(909 + o)
    txt(755 + o, 2360, f'Encoder{i + 1}')
    if i < 3:
        seg([923 + o, 960 + o], [2226, 2226])
arrow(1953, 2226, 2047, 2226)
block(2047, 2085, 2120, 2323, 'Dense', 15, YELLOW, False, color='#8F8A60')
block(2096, 2135, 2120, 2323, 'Layer Norm', 15.3)
seg([2085, 2096], [2222, 2222])
arrow(2135, 2218, 2220, 2218)
txt(2090, 2356, 'Pooler')

d_panels = [
    ((171, 462), (171, 462), (230, 378), [0.008, 0.010], ['0.008', '0.010'], d1_bars, d1_curve, ORANGE),
    ((608, 899), (608, 899), (675, 829), [0.012, 0.016], ['0.012', '0.016'], d2_bars, d2_curve, ORANGE),
    ((955, 1246), (955, 1246), (1033, 1180), [0.014, 0.020], ['0.014', '0.020'], d3_bars, d3_curve, ORANGE),
    ((1292, 1583), (1292, 1583), (1356, 1503), [0.014, 0.020], ['0.014', '0.020'], d4_bars, d4_curve, ORANGE),
    ((1640, 1931), (1640, 1931), (1711, 1862), [0.014, 0.020], ['0.014', '0.020'], d5_bars, d5_curve, ORANGE),
    ((1989, 2280), (1989, 2280), (2048, 2199), [-0.95, -0.85], ['-0.95', '-0.85'], d6_bars, d6_curve, GREEN),
]
for spine, bar_px, tick_px, ticks, labels, heights, line, col in d_panels:
    ax, to_data = hist_axes(spine, 2590, 190, 190, tick_px, ticks, labels)
    bars(ax, to_data, bar_px, heights, col)
    curve(ax, to_data, bar_px, line)

finish_canvas()
fig.savefig('out.png', dpi=100)
